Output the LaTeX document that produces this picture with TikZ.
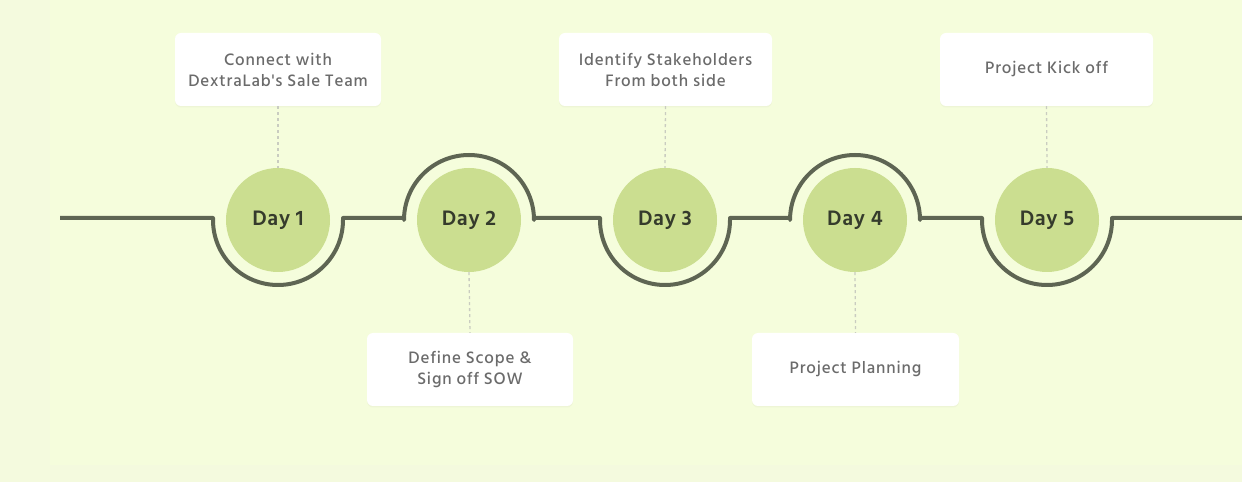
\documentclass[tikz,border=0pt]{standalone}
\usepackage{fontspec}
\setmainfont{Hind Siliguri}[UprightFont=* Medium, BoldFont=* SemiBold]
\usetikzlibrary{shadows}
\definecolor{bgout}{HTML}{F4FADE}
\definecolor{bgin}{HTML}{F5FDDC}
\definecolor{track}{HTML}{5E6553}
\definecolor{dayfill}{HTML}{CBDE90}
\definecolor{daytext}{HTML}{353B2C}
\definecolor{labeltext}{HTML}{6B6B6B}
\definecolor{dashcol}{HTML}{C9CCC0}
\newfontfamily\labelfont{Hind Siliguri}[UprightFont=* Medium, LetterSpace=5]
\newfontfamily\dayfont{Hind Siliguri}[UprightFont=* SemiBold, LetterSpace=3]
\tikzset{
  daycirc/.style={circle, fill=dayfill, minimum size=104pt, inner sep=0pt, text=daytext, font=\dayfont\fontsize{21.5}{24}\selectfont},
  labelbox/.style={rounded corners=6pt, fill=white, minimum height=73pt, align=center, text=labeltext, font=\labelfont\fontsize{17}{21}\selectfont, inner sep=0pt,
    drop shadow={shadow xshift=0pt, shadow yshift=-1.5pt, opacity=0.06}},
  trackline/.style={draw=track, line width=4pt, line join=round},
  connector/.style={draw=dashcol, line width=1.3pt, dash pattern=on 3pt off 3pt}
}
\begin{document}
\begin{tikzpicture}[x=1pt,y=1pt]
\useasboundingbox (0,0) rectangle (1242,482);
\fill[bgout] (0,0) rectangle (1242,482);
\fill[bgin] (50,17) rectangle (1242,482);
% track
\draw[trackline] (60,264) -- (213,264) -- (213,262) arc[start angle=180, end angle=360, radius=65]
  -- (343,264) -- (404,264) -- (404,262) arc[start angle=180, end angle=0, radius=65]
  -- (534,264) -- (600,264) -- (600,262) arc[start angle=180, end angle=360, radius=65]
  -- (730,264) -- (790,264) -- (790,262) arc[start angle=180, end angle=0, radius=65]
  -- (920,264) -- (982,264) -- (982,262) arc[start angle=180, end angle=360, radius=65]
  -- (1112,264) -- (1242,264);
% day circles
\node[daycirc] (d1) at (278,262) {Day 1};
\node[daycirc] (d2) at (469,262) {Day 2};
\node[daycirc] (d3) at (665,262) {Day 3};
\node[daycirc] (d4) at (855,262) {Day 4};
\node[daycirc] (d5) at (1047,262) {Day 5};
% label boxes
\node[labelbox, minimum width=206pt] (b1) at (278,412.5) {Connect with\\DextraLab's Sale Team};
\node[labelbox, minimum width=206pt] (b2) at (470,112.5) {Define Scope \&\\Sign off SOW};
\node[labelbox, minimum width=213pt] (b3) at (665.5,412.5) {Identify Stakeholders\\From both side};
\node[labelbox, minimum width=207pt] (b4) at (855.5,112.5) {Project Planning};
\node[labelbox, minimum width=213pt] (b5) at (1046.5,412.5) {Project Kick off};
% connectors
\draw[connector] (b1.south) -- (d1.north);
\draw[connector] (d2.south) -- (b2.north);
\draw[connector] (b3.south) -- (d3.north);
\draw[connector] (d4.south) -- (b4.north);
\draw[connector] (b5.south) -- (d5.north);
\end{tikzpicture}
\end{document}
